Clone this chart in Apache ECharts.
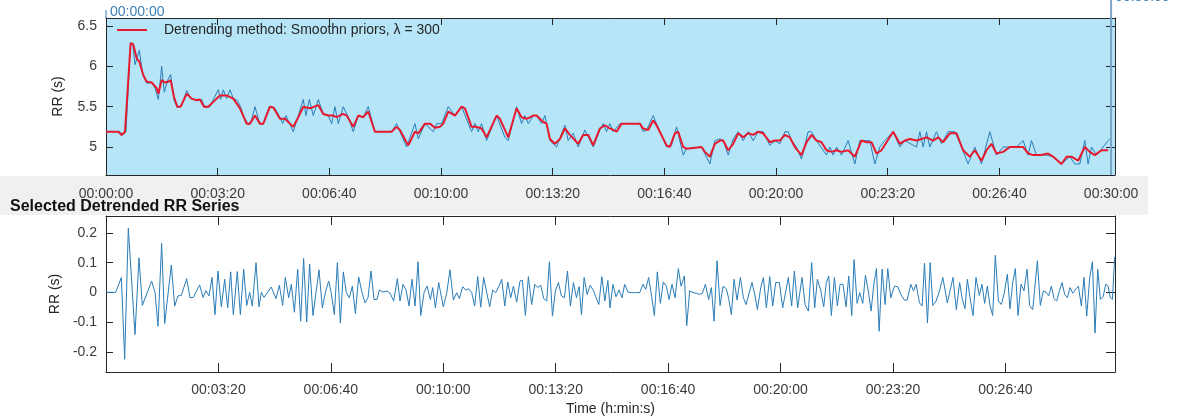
<!DOCTYPE html>
<html><head><meta charset="utf-8">
<script src="https://cdn.jsdelivr.net/npm/echarts@6/dist/echarts.min.js"></script>
<style>html,body{margin:0;padding:0;background:#fff}#c{width:1178px;height:420px}</style>
</head><body><div id="c"></div>
<script>
// ---- Top panel: raw RR series (s) ----
const rawT = [0,25.1,29.8,35.8,44.1,47.7,51.9,59.7,65.6,72.8,81.8,87.7,93.7,99.7,104.4,110.4,115.8,121.8,127.7,135.5,144.4,153.4,162.3,171.3,177.3,186.2,192.2,201.1,205.3,210.1,216.0,222.0,228.0,235.1,241.1,247.1,254.8,259.0,266.8,275.7,281.7,292.4,302.6,311.5,316.3,322.3,335.4,344.4,353.3,358.1,364.1,371.2,380.2,389.1,398.1,404.1,410.0,416.0,424.9,433.9,442.8,451.8,460.7,469.7,481.6,511.5,520.4,526.4,538.4,553.3,559.2,571.2,586.1,592.1,601.0,613.0,624.9,636.8,654.7,660.7,666.6,672.6,681.6,699.5,714.4,720.4,735.3,744.2,750.2,756.2,765.1,771.1,780.1,786.0,795.0,806.9,821.8,827.8,836.7,845.7,857.6,872.5,884.5,890.4,896.4,902.4,908.3,920.3,956.1,962.0,968.1,980.0,986.0,1003.9,1012.8,1021.8,1033.7,1039.7,1066.6,1081.5,1090.4,1099.4,1105.3,1114.3,1123.2,1132.2,1141.1,1150.1,1159.0,1168.0,1176.9,1188.9,1197.8,1206.8,1215.8,1221.7,1227.7,1236.6,1245.6,1257.5,1263.5,1272.4,1290.3,1296.3,1302.3,1308.3,1317.2,1329.1,1341.1,1350.0,1359.0,1367.9,1376.9,1385.8,1394.8,1409.7,1421.7,1430.6,1451.5,1457.5,1463.4,1469.4,1475.4,1487.3,1496.3,1508.2,1520.1,1532.1,1544.0,1556.0,1567.9,1582.8,1594.8,1606.7,1618.6,1630.6,1642.5,1651.4,1657.4,1666.4,1684.3,1696.2,1711.2,1726.0,1735.0,1743.9,1752.9,1758.8,1764.9,1773.8,1785.7,1794.7,1797.7];
const rawV = [5.19,5.19,5.15,5.19,6.29,6.29,6.02,6.2,5.91,5.79,5.8,5.73,5.59,6.0,5.68,5.83,5.9,5.58,5.49,5.51,5.7,5.59,5.59,5.59,5.49,5.5,5.59,5.71,5.59,5.71,5.6,5.71,5.6,5.58,5.5,5.37,5.28,5.29,5.5,5.28,5.29,5.5,5.48,5.37,5.29,5.39,5.19,5.39,5.59,5.39,5.59,5.39,5.59,5.41,5.39,5.29,5.5,5.29,5.5,5.37,5.19,5.39,5.37,5.5,5.19,5.19,5.29,5.19,5.0,5.29,5.1,5.29,5.19,5.29,5.29,5.5,5.39,5.5,5.19,5.29,5.19,5.29,5.08,5.39,5.12,5.08,5.5,5.29,5.39,5.29,5.39,5.39,5.29,5.39,5.08,5.0,5.27,5.08,5.17,5.0,5.21,5.0,5.21,5.29,5.19,5.29,5.19,5.29,5.29,5.19,5.21,5.39,5.29,5.0,5.02,5.25,4.9,4.98,5.0,4.79,5.08,5.1,5.08,4.9,5.1,5.19,5.08,5.19,5.08,5.19,5.19,5.02,5.08,5.04,5.19,5.19,5.08,5.0,4.85,5.19,5.19,5.08,4.9,5.0,4.9,5.0,4.9,5.08,4.79,5.08,5.08,5.08,4.79,5.0,5.08,5.19,5.0,5.08,5.0,5.19,5.0,5.19,5.0,5.19,5.04,5.19,5.19,5.0,4.79,5.0,4.79,5.19,4.9,5.0,5.0,5.0,5.08,4.9,5.08,4.9,4.9,4.88,4.79,4.88,4.79,4.79,5.08,4.79,5.0,4.9,5.0,5.08,5.1];

// ---- Top panel: smoothness-priors trend (s) ----
const trendT = [0,22.1,28.0,34.0,44.1,48.9,54.9,59.7,66.8,72.8,81.8,90.7,93.7,99.7,105.6,111.6,115.8,121.8,127.7,133.7,144.4,153.4,162.3,168.3,175.5,183.2,192.2,204.1,216.0,228.0,239.9,251.8,257.8,266.8,275.7,281.7,293.6,299.6,311.5,320.5,335.4,344.4,353.3,365.3,380.2,389.1,398.1,407.0,413.0,424.9,430.9,442.8,451.8,460.7,469.7,481.6,511.5,520.4,526.4,541.3,553.3,559.2,571.2,580.1,589.1,598.0,604.0,613.0,624.9,636.8,642.8,654.7,663.7,672.6,681.6,699.5,705.5,720.4,735.3,744.2,753.2,765.1,771.1,783.0,789.1,795.0,803.9,812.9,821.8,830.8,845.7,854.6,863.6,872.5,884.5,893.4,902.4,914.4,923.3,956.1,962.0,971.0,980.0,986.0,1003.9,1009.8,1018.8,1024.7,1033.7,1039.7,1066.6,1072.5,1081.5,1090.4,1099.4,1105.3,1114.3,1123.2,1132.2,1141.1,1150.1,1159.0,1168.0,1176.9,1188.9,1197.8,1206.8,1215.8,1224.7,1233.7,1245.6,1254.6,1263.5,1272.4,1281.4,1290.3,1299.3,1308.3,1317.2,1329.1,1341.1,1353.0,1362.0,1370.9,1379.9,1388.8,1397.8,1409.7,1421.7,1430.6,1439.6,1451.5,1460.5,1469.4,1481.3,1490.3,1499.2,1511.2,1523.2,1535.0,1547.0,1556.0,1567.9,1576.9,1585.8,1594.8,1606.7,1618.6,1630.6,1642.5,1651.4,1660.4,1675.3,1687.2,1696.2,1711.2,1720.1,1729.1,1741.0,1752.9,1761.9,1770.8,1782.8,1794.7];
const trendV = [5.19,5.19,5.15,5.19,6.29,6.27,6.1,6.06,5.89,5.81,5.8,5.73,5.66,5.83,5.8,5.81,5.83,5.62,5.5,5.5,5.66,5.6,5.58,5.59,5.5,5.5,5.56,5.64,5.64,5.6,5.48,5.29,5.29,5.39,5.29,5.29,5.5,5.49,5.35,5.35,5.25,5.37,5.5,5.48,5.52,5.41,5.39,5.39,5.37,5.41,5.39,5.25,5.39,5.37,5.44,5.19,5.19,5.25,5.21,5.02,5.19,5.17,5.29,5.29,5.24,5.25,5.29,5.44,5.39,5.5,5.48,5.25,5.25,5.23,5.12,5.39,5.35,5.12,5.48,5.37,5.35,5.39,5.39,5.31,5.29,5.10,5.04,5.1,5.23,5.15,5.04,5.15,5.15,5.02,5.23,5.27,5.23,5.19,5.29,5.29,5.23,5.21,5.33,5.27,5.02,5.0,5.17,5.19,5.0,4.98,5.0,4.94,4.88,5.04,5.08,5.08,4.96,5.04,5.17,5.12,5.17,5.15,5.19,5.17,5.06,5.08,5.08,5.15,5.12,5.0,4.9,5.06,5.15,5.08,5.06,4.96,4.94,4.96,4.94,4.96,4.88,5.08,5.06,5.06,4.92,4.96,5.06,5.19,5.04,5.08,5.1,5.08,5.1,5.12,5.08,5.12,5.06,5.17,5.17,4.96,4.88,4.96,4.83,4.96,5.04,4.92,4.94,5.0,5.0,5.0,4.92,4.9,4.9,4.92,4.88,4.79,4.88,4.88,4.83,5.0,4.94,4.9,4.96,4.96];

// ---- Bottom panel: detrended RR series (s) ----
const detT = [0,17.2,27.3,33.2,39.7,51.6,58.7,64.6,81.2,87.2,92.5,99.0,104.4,116.2,122.2,128.1,134.0,143.5,149.4,155.4,166.6,172.6,177.9,183.2,188.6,193.9,199.2,205.2,211.1,216.5,221.8,226.5,233.6,239.0,244.9,250.3,255.6,260.3,266.9,272.2,276.3,281.1,294,302.4,308.4,314.3,319.0,325.0,329.7,335.1,341.0,346.3,351.6,357.0,362.3,368.2,378.9,384.9,390.2,396.1,400.9,406.2,411.6,416.9,422.2,427.6,432.9,438.3,443.6,449.5,455.5,460.8,466.1,471.5,476.8,482.1,486.3,492.8,499.9,505.3,511.8,518.3,523.1,528.4,533.8,539.1,544.4,549.8,555.1,559.9,565.8,571.1,577.1,581.2,586.0,591.9,600.1,606.1,612.0,617.9,623.9,628.6,634.5,639.9,645.2,650.6,655.9,661.3,666.6,671.9,677.3,682.6,688.0,693.3,698.7,704.0,709.4,714.7,720.0,724.8,730.6,736.5,740.7,746.1,751.4,757.3,762.7,768.0,773.4,778.7,784.1,788.8,794.2,799.5,804.9,810.2,815.5,820.9,826.2,831.6,836.9,841.7,845.8,850.6,855.9,861.3,866.6,872.0,876.7,882.1,887.4,892.8,896.6,901.9,907.3,912.6,918.0,922.7,928.6,934.5,940.5,949.4,955.3,960.1,965.4,970.8,975.5,980.8,986.2,991.5,996.9,1001.6,1007.0,1012.3,1018.2,1023.0,1028.9,1033.1,1038.4,1044.3,1050.3,1056.2,1060.9,1066.3,1072.2,1077.0,1081.7,1087.0,1092.4,1097.7,1103.6,1107.8,1112.5,1117.3,1122.6,1128.6,1133.9,1138.7,1144.6,1149.3,1154.7,1158.8,1164.8,1169.5,1174.8,1180.8,1186.1,1191.5,1197.9,1203.8,1213.9,1219.8,1224.6,1230.5,1238.2,1243.6,1249.5,1255.4,1260.8,1265.5,1271.4,1276.8,1281.5,1285.7,1290.4,1295.8,1301.1,1305.9,1311.2,1316.6,1321.3,1326.7,1330.8,1336.2,1340.9,1346.3,1351.0,1356.4,1361.1,1365.9,1370.6,1375.4,1380.7,1386.0,1390.8,1396.1,1402.7,1408.6,1413.9,1420.5,1425.2,1431.7,1436.5,1441.2,1447.2,1451.9,1456.1,1461.4,1466.2,1470.9,1476.8,1482.8,1488.7,1496.7,1506.8,1512.7,1518.6,1523.4,1528.1,1532.3,1537.6,1542.4,1547.7,1553.6,1558.4,1563.1,1567.9,1572.6,1577.4,1582.1,1587.5,1592.8,1598.1,1603.5,1608.2,1613.0,1617.7,1622.5,1627.8,1633.1,1638.5,1643.2,1648.6,1652.1,1656.9,1662.2,1667.5,1672.3,1677.0,1681.8,1686.5,1691.3,1696.0,1700.8,1705.5,1710.3,1715.0,1719.8,1725.7,1729.8,1735.2,1739.9,1744.7,1750.0,1754.8,1759.5,1764.3,1769.0,1773.8,1778.5,1782.7,1786.8,1790.4,1794.5];
const detV = [0,0,0.05,-0.225,0.216,-0.142,0.116,-0.044,0.038,0.0,-0.114,0.165,-0.105,0.092,-0.046,-0.012,-0.01,0.046,-0.018,-0.017,0.025,-0.017,0.006,-0.012,0.05,-0.075,0.072,-0.049,0.044,-0.052,0.069,-0.075,0.07,-0.075,0.078,-0.044,0.0,-0.046,0.1,-0.049,0.0,-0.017,0.018,-0.021,0.024,-0.044,0.05,-0.018,0.027,-0.067,0.078,-0.097,0.114,-0.10,0.095,-0.078,0.076,-0.052,-0.001,0.038,-0.003,-0.075,0.1,-0.103,0.069,-0.001,-0.018,0.021,-0.071,0.052,-0.001,-0.035,-0.018,0.072,-0.024,-0.024,0.008,0.001,0.005,-0.003,-0.029,0.046,-0.029,0.027,0.008,-0.046,0.044,-0.046,0.103,-0.078,-0.001,0.021,-0.024,0.016,-0.052,0.033,-0.049,-0.003,0.076,-0.026,-0.001,-0.021,0.019,0.008,0.012,-0.001,-0.046,0.053,-0.05,0.05,-0.001,-0.049,0.008,-0.001,0.019,0.044,-0.046,0.035,-0.018,0.021,-0.033,0.038,0.041,-0.078,0.053,-0.041,0.027,0.016,0.024,-0.021,-0.029,0.103,-0.08,0.005,0.033,-0.012,-0.018,0.072,-0.046,0.033,-0.018,0.019,-0.075,0.05,-0.007,0.024,0.008,-0.018,-0.041,0.053,-0.029,0.04,-0.052,0.027,-0.015,0.008,-0.018,0.027,0.001,-0.001,-0.001,-0.001,0.027,0.01,0.05,-0.015,-0.078,0.069,-0.037,0.035,0.021,-0.024,0.027,-0.018,0.08,0.021,0.055,-0.112,0.005,-0.001,-0.003,-0.007,-0.003,0.027,-0.024,0.016,-0.097,0.106,-0.044,0.021,0.012,-0.021,-0.075,0.044,-0.026,0.05,-0.018,-0.041,0.001,0.033,-0.012,-0.058,0.016,0.05,-0.052,0.053,-0.046,0.033,0.033,-0.052,0.05,-0.046,0.072,-0.052,0.05,-0.041,-0.063,0.1,-0.052,0.044,0.008,-0.049,0.033,0.055,-0.078,0.05,-0.046,0.027,0.027,-0.049,0.055,-0.078,0.11,-0.037,-0.001,-0.037,0.058,0.001,-0.063,0.027,0.08,-0.131,0.078,-0.041,0.08,-0.018,0.021,0.019,-0.007,-0.026,-0.026,0.027,0.005,0.027,-0.035,-0.046,0.098,-0.103,0.1,-0.044,-0.029,0.005,0.05,-0.035,0.05,-0.058,0.033,-0.024,-0.055,0.044,-0.024,-0.078,0.05,-0.01,0.027,-0.037,0.021,-0.044,-0.078,0.125,-0.029,-0.041,-0.001,0.061,-0.055,0.033,0.08,-0.078,0.027,0.005,0.078,-0.044,-0.058,-0.058,0.106,-0.044,0.005,0.001,-0.012,0.021,-0.021,-0.029,0.005,0.033,-0.007,-0.018,0.016,-0.003,0.012,0.021,-0.046,0.05,-0.08,0.05,0.103,-0.137,0.078,-0.024,-0.015,0.027,0.021,-0.018,-0.024,0.12];

// ---- Axis tick values / labels ----
const topXTicks = [0,200,400,600,800,1000,1200,1400,1600,1800];
const botXTicks = [200,400,600,800,1000,1200,1400,1600];
const topYTicks = [5,5.5,6,6.5];
const botYTicks = [-0.2,-0.1,0,0.1,0.2];
const legendLabel = 'Detrending method: Smoothn priors, λ = 300';
const startLabel = '00:00:00', endLabel = '00:30:00';

function zip(a,b){return a.map((t,i)=>[t,b[i]]);}
function hms(v){v=Math.round(v);const h=Math.floor(v/3600),m=Math.floor(v%3600/60),s=v%60;const p=n=>String(n).padStart(2,'0');return p(h)+':'+p(m)+':'+p(s);}

const FONT = 'Liberation Sans, Arial, sans-serif';
const AX = '#262626';
const lbl = {color:'#3a3a3a', fontSize:14, fontFamily:FONT};

function xAx(grid,min,max,ticks,pos,showLabels,len,margin,extra){
  return Object.assign({type:'value',gridIndex:grid,min:min,max:max,position:pos,
    axisLine:{show:true,onZero:false,lineStyle:{color:AX,width:1}},
    axisTick:{show:true,inside:true,length:len,customValues:ticks,lineStyle:{color:AX}},
    axisLabel:{show:showLabels,customValues:ticks,formatter:hms,margin:margin,...lbl},
    splitLine:{show:false}},extra||{});
}
function yAx(grid,min,max,ticks,pos,showLabels,len,extra){
  return Object.assign({type:'value',gridIndex:grid,min:min,max:max,position:pos,
    axisLine:{show:true,onZero:false,lineStyle:{color:AX,width:1}},
    axisTick:{show:true,inside:true,length:len,customValues:ticks,lineStyle:{color:AX}},
    axisLabel:{show:showLabels,customValues:ticks,formatter:v=>String(+v.toFixed(2)),margin:9,...lbl},
    splitLine:{show:false}},extra||{});
}

const chart = echarts.init(document.getElementById('c'),null,{renderer:'canvas'});
const option = {
  animation:false,
  backgroundColor:'#ffffff',
  textStyle:{fontFamily:FONT},
  title:{text:'Selected Detrended RR Series',left:5,top:194,textStyle:{fontSize:16,fontWeight:'bold',color:'#111',fontFamily:FONT}},
  legend:{data:[legendLabel],left:111,top:18,itemWidth:30,itemHeight:14,itemGap:0,
    itemStyle:{opacity:0},
    textStyle:{fontSize:14,color:'#262626',fontFamily:FONT,padding:[0,0,0,12]}},
  grid:[
    {left:106,top:18,right:63,height:157,show:true,backgroundColor:'#b6e5f8',borderWidth:0},
    {left:106,top:216,right:63,height:156,show:true,backgroundColor:'#ffffff',borderWidth:0}
  ],
  xAxis:[
    xAx(0,0,1807,topXTicks,'bottom',true,7,12),
    xAx(0,0,1807,topXTicks,'top',false,7,12),
    xAx(1,0,1795,botXTicks,'bottom',true,9,11,{name:'Time (h:min:s)',nameLocation:'middle',nameGap:30,nameTextStyle:{color:'#262626',fontSize:14,fontFamily:FONT}}),
    xAx(1,0,1795,botXTicks,'top',false,9,11)
  ],
  yAxis:[
    yAx(0,4.653,6.6,topYTicks,'left',true,7,{name:'RR (s)',nameLocation:'middle',nameGap:41,nameTextStyle:{color:'#262626',fontSize:14,fontFamily:FONT}}),
    yAx(0,4.653,6.6,topYTicks,'right',false,9),
    yAx(1,-0.268,0.257,botYTicks,'left',true,7,{name:'RR (s)',nameLocation:'middle',nameGap:44,nameTextStyle:{color:'#262626',fontSize:14,fontFamily:FONT}}),
    yAx(1,-0.268,0.257,botYTicks,'right',false,9)
  ],
  series:[
    {name:'RR',type:'line',xAxisIndex:0,yAxisIndex:0,data:zip(rawT,rawV),symbol:'none',lineStyle:{color:'#2a7db8',width:1},z:2},
    {name:legendLabel,type:'line',xAxisIndex:0,yAxisIndex:0,data:zip(trendT,trendV),symbol:'none',lineStyle:{color:'#e8192c',width:2},itemStyle:{color:'#e8192c'},z:3},
    {name:'Detrended',type:'line',xAxisIndex:2,yAxisIndex:2,data:zip(detT,detV),symbol:'none',lineStyle:{color:'#2a7db8',width:1}}
  ]
};
chart.setOption(option);

// selection markers, positioned through the axis scale
const xs = chart.convertToPixel({xAxisIndex:0},0);
const xe = chart.convertToPixel({xAxisIndex:0},1800);
chart.setOption({graphic:[
  {type:'rect',z:-10,silent:true,shape:{x:0,y:176,width:1148,height:39},style:{fill:'#f0f0f0'}},
  {type:'line',z:10,shape:{x1:xs,y1:10,x2:xs,y2:18},style:{stroke:'#3d7eb5',lineWidth:1}},
  {type:'text',z:10,style:{text:startLabel,x:xs+4,y:12,verticalAlign:'middle',fill:'#3d7eb5',font:'14px '+FONT}},
  {type:'line',z:10,shape:{x1:xe,y1:0,x2:xe,y2:175},style:{stroke:'#7aa3c6',lineWidth:2}},
  {type:'text',z:10,style:{text:endLabel,x:xe+4,y:-3,verticalAlign:'middle',fill:'#3d7eb5',font:'14px '+FONT}}
]});
</script></body></html>
